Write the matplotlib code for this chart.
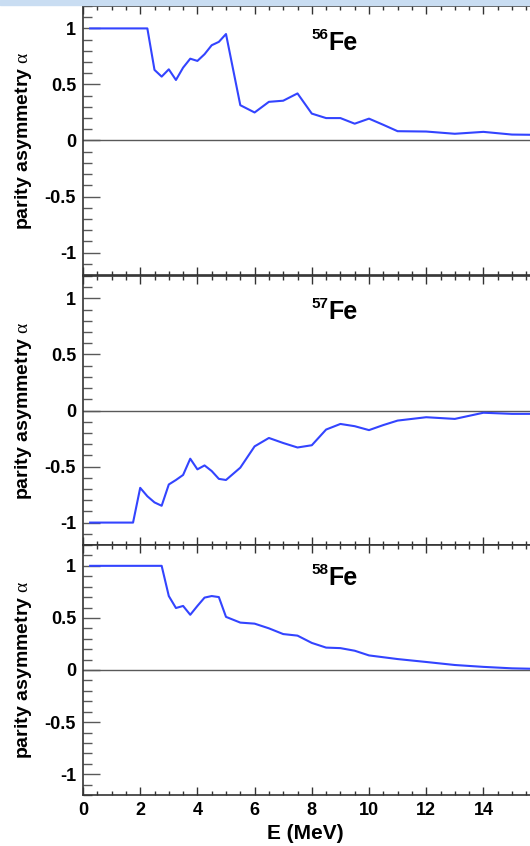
import numpy as np
import matplotlib
matplotlib.use("Agg")
import matplotlib.pyplot as plt
from matplotlib.ticker import MultipleLocator
from matplotlib.patches import Rectangle

plt.rcParams['font.family'] = ['Liberation Sans', 'DejaVu Sans']
plt.rcParams['mathtext.fontset'] = 'custom'
plt.rcParams['mathtext.rm'] = 'Liberation Serif'
plt.rcParams['mathtext.bf'] = 'Liberation Sans:bold'


# -------------------------------------------------
# Data
# -------------------------------------------------
e_56 = [0.25, 2.25, 2.5, 2.75, 3.0, 3.25, 3.5, 3.75, 4.0, 4.25, 4.5, 4.75, 5.0,
        5.5, 6.0, 6.5, 7.0, 7.5, 8.0, 8.5, 9.0, 9.5, 10.0, 10.5, 11.0, 12.0,
        13.0, 14.0, 15.0, 16.0]
a_56 = [1.0, 1.0, 0.63, 0.57, 0.635, 0.54, 0.65, 0.73, 0.71, 0.77, 0.85, 0.88, 0.95,
        0.315, 0.25, 0.345, 0.355, 0.42, 0.24, 0.2, 0.2, 0.15, 0.195, 0.14, 0.083, 0.08,
        0.06, 0.077, 0.053, 0.05]

e_57 = [0.25, 1.75, 2.0, 2.25, 2.5, 2.75, 3.0, 3.25, 3.5, 3.75, 4.0, 4.25, 4.5, 4.75,
        5.0, 5.5, 6.0, 6.5, 7.0, 7.5, 8.0, 8.5, 9.0, 9.5, 10.0, 10.5, 11.0, 12.0,
        13.0, 14.0, 15.0, 16.0]
a_57 = [-1.0, -1.0, -0.69, -0.765, -0.82, -0.85, -0.66, -0.62, -0.575, -0.43, -0.525,
        -0.49, -0.54, -0.61, -0.62, -0.51, -0.32, -0.245, -0.29, -0.33, -0.31, -0.17,
        -0.12, -0.14, -0.175, -0.13, -0.09, -0.06, -0.075, -0.02, -0.03, -0.03]

e_58 = [0.25, 2.75, 3.0, 3.25, 3.5, 3.75, 4.0, 4.25, 4.5, 4.75, 5.0, 5.5, 6.0, 6.5,
        7.0, 7.5, 8.0, 8.5, 9.0, 9.5, 10.0, 11.0, 12.0, 13.0, 14.0, 15.0, 16.0]
a_58 = [1.0, 1.0, 0.71, 0.595, 0.615, 0.53, 0.615, 0.695, 0.71, 0.70, 0.51, 0.455,
        0.445, 0.40, 0.345, 0.33, 0.26, 0.215, 0.21, 0.185, 0.14, 0.105, 0.077, 0.048,
        0.03, 0.016, 0.01]

isotopes = ["56", "57", "58"]


# -------------------------------------------------
# Figure layout
# -------------------------------------------------
W, H = 530, 846
fig = plt.figure(figsize=(W / 100, H / 100), dpi=100)

# light band at the very top
fig.patches.append(Rectangle((0, 1 - 5 / H), 1, 5 / H, transform=fig.transFigure,
                             color="#c9ddf2", zorder=0))

left = 83 / W
xmax = (W - 83) / 28.6

# (top px, bottom px, label offset px) for each panel
panels = [(6, 275, 37), (276, 545, 36), (545, 795, 33)]
series = [(e_56, a_56), (e_57, a_57), (e_58, a_58)]

for i, ((top, bot, off), (e, a), iso) in enumerate(zip(panels, series, isotopes)):

    ax = fig.add_axes([left, 1 - bot / H, 1 - left, (bot - top) / H])

    ax.plot(e, a, color="#3344ff", lw=1.5, zorder=3)
    ax.axhline(0, color="0.35", lw=1.0, zorder=2)

    ax.set_xlim(0, xmax)
    ax.set_ylim(-1.2, 1.2)

    ax.spines["right"].set_visible(False)
    for s in ["left", "top", "bottom"]:
        ax.spines[s].set_linewidth(1.2)
        ax.spines[s].set_color("0.2")

    ax.xaxis.set_major_locator(MultipleLocator(2))
    ax.xaxis.set_minor_locator(MultipleLocator(0.5))
    ax.yaxis.set_major_locator(MultipleLocator(0.5))
    ax.yaxis.set_minor_locator(MultipleLocator(0.1))

    ax.tick_params(axis="x", which="major", direction="in", top=True, length=6,
                   width=1, color="0.2")
    ax.tick_params(axis="x", which="minor", direction="in", top=True, length=3,
                   width=1, color="0.2")
    ax.tick_params(axis="y", which="major", direction="in", length=12, width=1,
                   color="0.35", pad=5)
    ax.tick_params(axis="y", which="minor", direction="in", length=6.5, width=1,
                   color="0.35")

    ax.set_yticks([-1, -0.5, 0, 0.5, 1])
    ax.set_yticklabels(["-1", "-0.5", "0", "0.5", "1"], fontsize=13,
                       fontweight="bold")

    if i < 2:
        ax.tick_params(axis="x", labelbottom=False)
    else:
        ax.set_xticks(np.arange(0, 16, 2))
        ax.set_xticklabels([str(v) for v in range(0, 16, 2)], fontsize=13,
                           fontweight="bold")
        ax.tick_params(axis="x", which="major", pad=5)
        ax.set_xlabel("E (MeV)", fontsize=15, fontweight="bold")
        ax.xaxis.set_label_coords((305 - 83) / (W - 83), -0.115)

    ax.set_ylabel(r"parity asymmetry $\mathrm{\alpha}$", fontsize=14,
                  fontweight="bold")
    ax.yaxis.set_label_coords(-(83 - 34) / (W - 83), 0.5)

    # isotope label: superscript mass number + element
    xf = (328 - 83) / (W - 83)
    yf = 1 - off / (bot - top)
    ax.text(xf, yf, "Fe", transform=ax.transAxes, fontsize=18,
            fontweight="bold", ha="left", va="center")
    ax.text(xf, yf + 8 / (bot - top), iso, transform=ax.transAxes, fontsize=11,
            fontweight="bold", ha="right", va="center")

plt.savefig("out.png", dpi=100)
plt.close()
